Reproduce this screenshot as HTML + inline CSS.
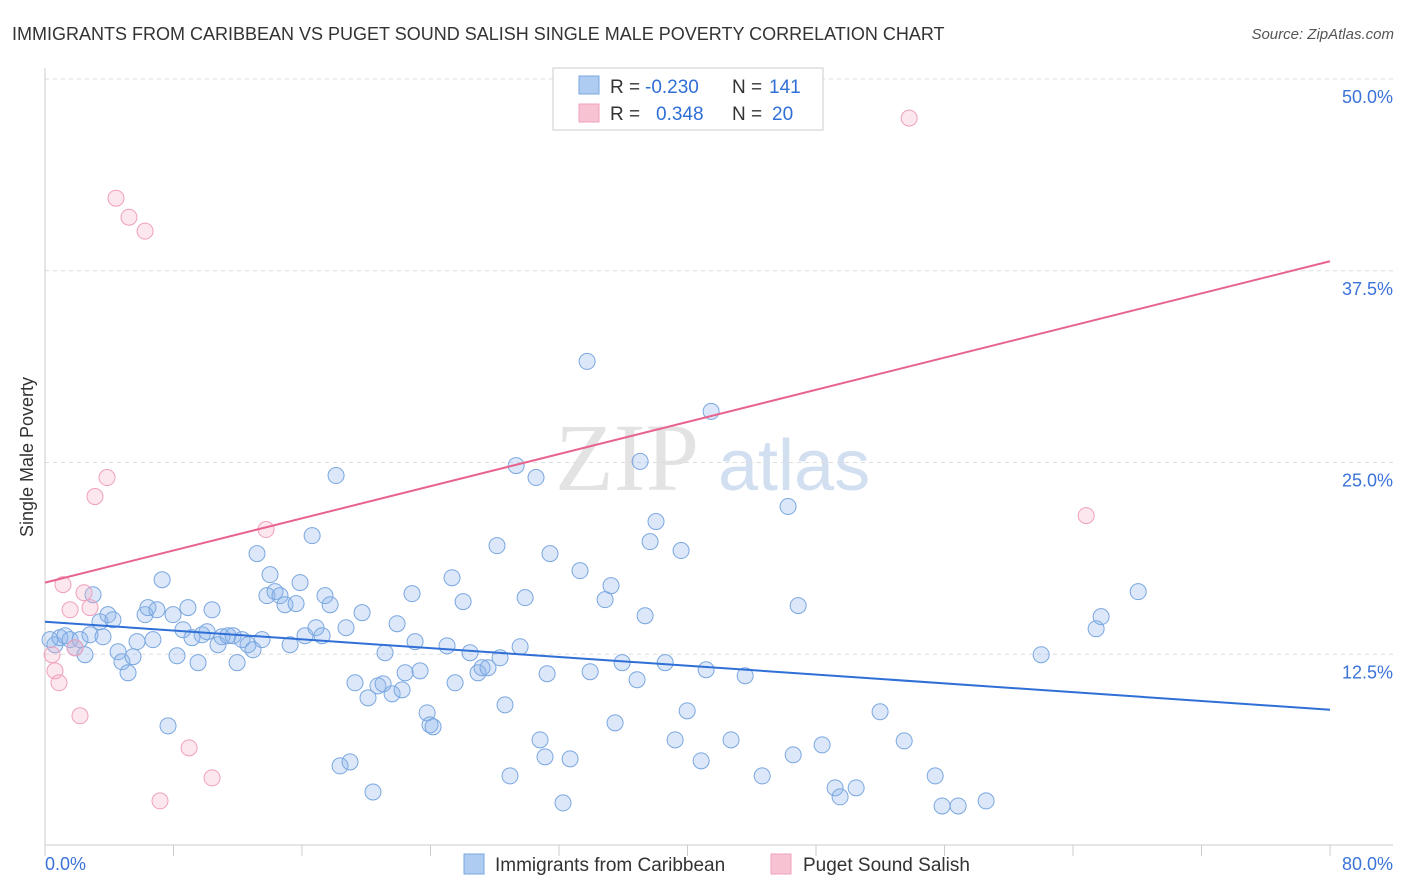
<!DOCTYPE html>
<html><head><meta charset="utf-8">
<style>
body{margin:0;background:#fff;font-family:"Liberation Sans",sans-serif;}
svg{display:block}
</style></head>
<body>
<svg width="1406" height="892" viewBox="0 0 1406 892" xmlns="http://www.w3.org/2000/svg">
<text x="12" y="40" font-size="18" fill="#333">IMMIGRANTS FROM CARIBBEAN VS PUGET SOUND SALISH SINGLE MALE POVERTY CORRELATION CHART</text>
<text x="1394" y="39" font-size="15" fill="#555" font-style="italic" text-anchor="end">Source: ZipAtlas.com</text>
<text x="33" y="457" font-size="18" fill="#333" text-anchor="middle" transform="rotate(-90 33 457)">Single Male Poverty</text>
<g>
<text x="555" y="490" font-size="96" fill="#ddd" font-family="Liberation Serif,serif" opacity="0.8">ZIP</text>
<text x="718" y="490" font-size="72" fill="#c8d8ee" opacity="0.8">atlas</text>
</g>
<g id="grid"></g>
<g id="axes"></g>
<g id="pts"></g>
<g id="lines"></g>
<g>
<rect x="553" y="68" width="270" height="62" fill="#fff" stroke="#ccc"/>
<rect x="579" y="76" width="20" height="18" fill="#aecbf2" stroke="#7aa7e0"/>
<rect x="579" y="104" width="20" height="18" fill="#f7c3d3" stroke="#f0a0bc"/>
<text x="610" y="93" font-size="19" fill="#333">R =</text>
<text x="645" y="93" font-size="19" fill="#2f6fd6">-0.230</text>
<text x="732" y="93" font-size="19" fill="#333">N =</text>
<text x="769" y="93" font-size="19" fill="#2f6fd6">141</text>
<text x="610" y="120" font-size="19" fill="#333">R =</text>
<text x="656" y="120" font-size="19" fill="#2f6fd6">0.348</text>
<text x="732" y="120" font-size="19" fill="#333">N =</text>
<text x="772" y="120" font-size="19" fill="#2f6fd6">20</text>
</g>
<g>
<rect x="464" y="854" width="20" height="20" fill="#aecbf2" stroke="#7aa7e0"/>
<text x="495" y="871" font-size="19" fill="#333">Immigrants from Caribbean</text>
<rect x="771" y="854" width="20" height="20" fill="#f7c3d3" stroke="#f0a0bc"/>
<text x="803" y="871" font-size="19" fill="#333">Puget Sound Salish</text>
</g>
</svg>
<script>
const blueX=[0.31,0.62,0.93,1.25,1.56,1.87,2.18,2.49,2.80,2.99,3.42,3.61,3.92,4.23,4.55,4.79,5.17,5.48,5.73,6.23,6.41,6.72,6.97,7.29,7.66,7.97,8.22,8.59,8.90,9.15,9.53,9.78,10.09,10.40,10.77,11.02,11.39,11.71,11.96,12.27,12.64,12.95,13.20,13.51,13.82,14.01,14.32,14.63,14.94,15.26,15.63,15.88,16.19,16.63,16.87,17.25,17.43,17.75,18.12,18.37,18.74,18.99,19.30,19.74,20.11,20.42,20.73,21.05,21.17,21.61,21.92,22.23,22.42,22.85,23.04,23.35,23.79,23.97,24.16,25.03,25.34,25.53,26.03,26.46,26.96,27.21,27.58,28.14,28.33,28.64,28.95,29.33,29.58,29.89,30.57,30.82,31.13,31.26,31.44,32.25,32.69,33.31,33.75,33.94,34.87,35.24,35.49,35.93,36.86,37.05,37.36,37.67,38.04,38.61,39.23,39.60,39.98,40.85,41.16,41.47,42.71,43.59,44.65,46.26,46.58,46.89,48.38,49.19,49.50,50.50,51.99,53.49,55.42,55.85,56.85,58.59,62.02,65.44,65.75,68.06];
const blueY=[13.45,13.12,13.58,13.71,13.45,12.92,13.45,12.47,13.77,16.38,14.62,13.64,15.08,14.75,12.66,12.01,11.29,12.34,13.32,15.08,15.54,13.45,15.40,17.36,7.83,15.08,12.40,14.10,15.54,13.58,11.95,13.77,13.97,15.40,13.12,13.64,13.71,13.71,11.95,13.45,13.12,12.79,19.06,13.45,16.32,17.69,16.58,16.32,15.73,13.12,15.80,17.17,13.71,20.23,14.23,13.71,16.32,15.73,24.15,5.22,14.23,5.48,10.64,15.21,9.66,3.52,10.44,10.57,12.60,9.92,14.49,10.18,11.29,16.45,13.32,11.42,8.68,7.90,7.77,13.05,17.49,10.64,15.93,12.60,11.29,11.62,11.62,19.58,12.27,9.20,4.57,24.80,12.99,16.19,24.02,6.92,5.81,11.23,19.06,2.81,5.68,17.95,31.59,11.36,16.06,16.97,8.03,11.95,10.84,25.07,15.01,19.84,21.15,11.95,6.92,19.26,8.81,5.55,11.49,28.33,6.92,11.10,4.57,22.13,5.94,15.67,6.59,3.79,3.20,3.79,8.75,6.85,4.57,2.61,2.61,2.94,12.47,14.16,14.95,16.58];
const pinkX=[0.44,0.62,0.87,1.12,1.56,1.87,2.18,2.43,2.80,3.11,3.86,4.42,5.23,6.23,7.16,8.97,10.40,13.76,53.80,64.82];
const pinkY=[12.47,11.42,10.64,17.04,15.40,12.92,8.49,16.51,15.54,22.78,24.02,42.23,40.99,40.08,2.94,6.40,4.44,20.63,47.45,21.54];
const blueTrend=[14.62,8.88];
const pinkTrend=[17.17,38.12];
const yTicks=[12.5,25.0,37.5,50.0];
const xTicks=[0,8,16,24,32,40,48,56,64,72,80];
const NS='http://www.w3.org/2000/svg';
const X=v=>45+v/80*1285, Y=v=>846-v/50*767;
function mk(tag,attrs,parent,text){const e=document.createElementNS(NS,tag);for(const k in attrs)e.setAttribute(k,attrs[k]);if(text!==undefined)e.textContent=text;parent.appendChild(e);return e;}
const grid=document.getElementById('grid'),axes=document.getElementById('axes'),pts=document.getElementById('pts'),lines=document.getElementById('lines');
yTicks.forEach(t=>{
 const l=mk('line',{x1:45,x2:1393,y1:Y(t),y2:Y(t),stroke:'#ddd','stroke-dasharray':'4 4'},grid);
 
 
 const tx=mk('text',{x:1393,y:Y(t)+24,'font-size':18,fill:'#3b73d9','text-anchor':'end'},axes,t.toFixed(1)+'%');
 
 
});
const al=mk('line',{x1:45,x2:45,y1:68,y2:846,stroke:'#ccc'},axes);


const bl=mk('line',{x1:45,x2:1393,y1:845,y2:845,stroke:'#ccc'},axes);


xTicks.forEach(t=>{
 const tk=mk('line',{x1:X(t),x2:X(t),y1:845,y2:856,stroke:'#ccc'},axes);
 
 
});
[[0,'0.0%','start',45],[80,'80.0%','end',1393]].forEach(a=>{
 const t=mk('text',{x:a[3],y:870,'font-size':18,fill:'#3b73d9','text-anchor':a[2]},axes,a[1]);
 
 
});
blueX.forEach((x,i)=>{
 const c=mk('circle',{cx:X(x),cy:Y(blueY[i]),r:8,fill:'rgba(140,180,235,0.3)',stroke:'#7aa7e0','stroke-width':1},pts);
 
 
});
pinkX.forEach((x,i)=>{
 const c=mk('circle',{cx:X(x),cy:Y(pinkY[i]),r:8,fill:'rgba(245,175,200,0.3)',stroke:'#f0a0bc','stroke-width':1},pts);
 
 
});
const b=mk('line',{x1:X(0),y1:Y(blueTrend[0]),x2:X(80),y2:Y(blueTrend[1]),stroke:'#2f6fd6','stroke-width':2},lines);


const p=mk('line',{x1:X(0),y1:Y(pinkTrend[0]),x2:X(80),y2:Y(pinkTrend[1]),stroke:'#e8648f','stroke-width':2},lines);


</script>
</body></html>
